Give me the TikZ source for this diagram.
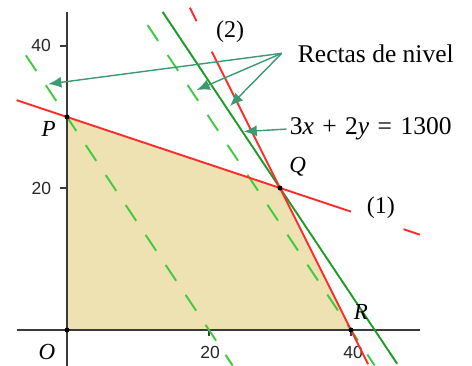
\documentclass[tikz,border=0pt]{standalone}
\usepackage{fontspec}
\setmainfont{Liberation Serif}
\setsansfont{Liberation Sans}
\usetikzlibrary{arrows.meta, positioning}
\definecolor{lpred}{HTML}{FF2A2A}
\definecolor{lpgreen}{HTML}{1F9A26}
\definecolor{lplight}{HTML}{3CCB3C}
\definecolor{lparrow}{HTML}{3C9A72}
\definecolor{lpfill}{HTML}{EEE1B2}
\definecolor{lpaxis}{HTML}{3A3A3A}
\tikzset{
	axisln/.style={draw=lpaxis, line width=2.4pt},
	restr/.style={draw=lpred, line width=1.9pt},
	nivel/.style={draw=lplight, line width=1.9pt, dash pattern=on 19pt off 17pt},
	optimo/.style={draw=lpgreen, line width=1.9pt},
	larr/.style={-{Latex[length=13pt, width=11pt]}, line width=1.4pt, draw=lparrow, fill=lparrow},
	vtx/.style={circle, fill=black, inner sep=0pt, minimum size=5pt},
	ptlbl/.style={font=\fontsize{23}{23}\selectfont\itshape},
	ticklbl/.style={font=\fontsize{17.5}{17.5}\selectfont\sffamily, text=black!85},
	txtlbl/.style={font=\fontsize{25.5}{25.5}\selectfont}
}

\begin{document}
\begin{tikzpicture}[x=7.1pt, y=7.1pt]
	\useasboundingbox (-9.437,-4.93) rectangle (57.04,46.48);
	\fill[lpfill] (0,0) -- (0,30) -- (30,20) -- (40,0) -- cycle;

	% ejes
	\draw[axisln] (-7.1,0) -- (49.7,0);
	\draw[axisln] (0,-5) -- (0,44.8);
	\foreach \t in {20,40} {
		\draw[axisln, line width=1.4pt] (-1,\t) -- (0,\t);
		\draw[axisln, line width=1.4pt] (\t,0) -- (\t,-0.8);
	}
	\node[ticklbl] (y20) at (-3.6,20) {20};
	\node[ticklbl] (y40) at (-3.66,40.07) {40};
	\node[ticklbl] (x20) at (20.14,-3.17) {20};
	\node[ticklbl] (x40) at (40.3,-3.17) {40};

	% rectas de nivel y recta optima
	\draw[nivel] (-5.8,38.7) -- (23.33,-5);
	\draw[nivel] (11.35,42.95) -- (43.33,-5);
	\draw[optimo] (13.47,44.8) -- (46.5,-4.75);

	% restricciones
	\draw[restr] (-7.1,32.37) -- (40,16.67);
	\draw[restr] (47.4,14.2) -- (49.7,13.43);
	\draw[restr] (20.4,39.2) -- (42.4,-4.8);
	\draw[restr] (17.3,45.4) -- (18.25,43.5);

	% vertices
	\node[vtx] (O) at (0,0) {};
	\node[vtx] (P) at (0,30) {};
	\node[vtx] (Q) at (30,20) {};
	\node[vtx] (R) at (40,0) {};
	\node[ptlbl] (lO) at (-2.82,-3.03) {O};
	\node[ptlbl] (lP) at (-2.6,28.3) {P};
	\node[ptlbl] (lQ) at (32.5,23.0) {Q};
	\node[ptlbl] (lR) at (41.4,2.58) {R};
	\node[txtlbl, font=\fontsize{24}{24}\selectfont] (r1) at (44.2,17.2) {(1)};
	\node[txtlbl, font=\fontsize{24}{24}\selectfont] (r2) at (22.96,42.0) {(2)};

	% flechas
	\coordinate (src) at (30.24,38.97);
	\coordinate (n1) at (-2.63,34.65);
	\coordinate (n2) at (18.27,33.8);
	\coordinate (n3) at (22.96,31.55);
	\coordinate (n4) at (24.9,27.95);
	\node[txtlbl, right=8pt of src, inner sep=8pt] (rectas) {Rectas de nivel};
	\node[txtlbl, anchor=west] (eq) at (30.9,28.3) {3\textit{x}\hspace{0.33em}+\hspace{0.33em}2\textit{y}\hspace{0.33em}=\hspace{0.33em}1300};
	\draw[larr] (src) -- (n1);
	\draw[larr] (src) -- (n2);
	\draw[larr] (src) -- (n3);
	\draw[larr] (eq.west) -- (n4);
\end{tikzpicture}
\end{document}
